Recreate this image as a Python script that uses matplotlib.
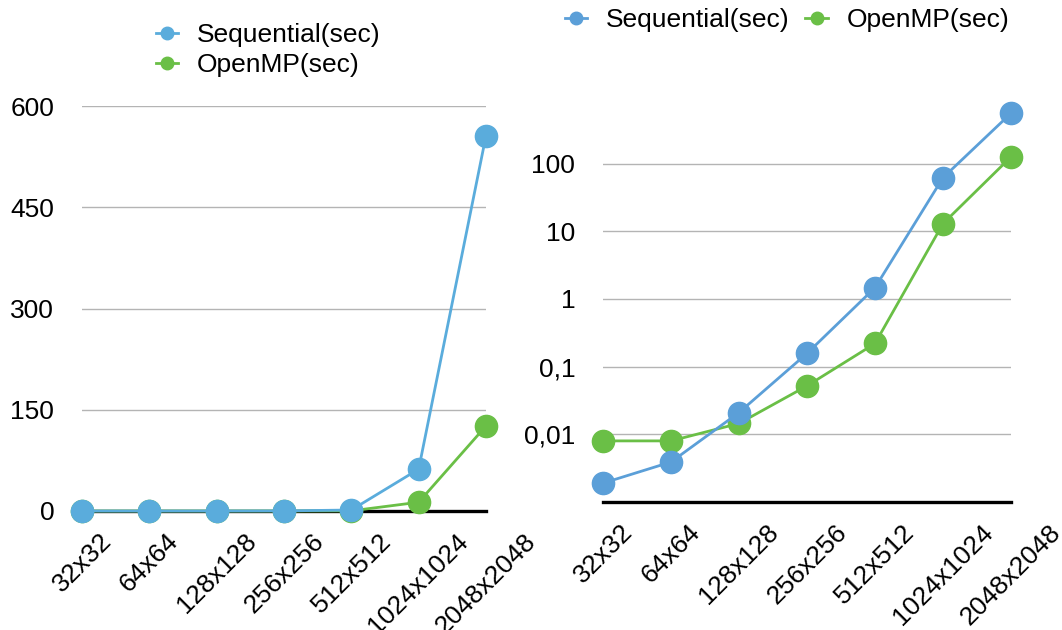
import matplotlib
matplotlib.use('Agg')
from matplotlib import pyplot as plt
from matplotlib.lines import Line2D

sizes = ["32x32", "64x64", "128x128", "256x256", "512x512", "1024x1024", "2048x2048"]
sequential = [0.0019, 0.0039, 0.021, 0.157, 1.47, 62, 556]
openmp = [0.008, 0.008, 0.0145, 0.052, 0.22, 13, 126]

linear_ticks = [0, 150, 300, 450, 600]
log_ticks = [0.01, 0.1, 1, 10, 100]
log_labels = ["0,01", "0,1", "1", "10", "100"]

blue_left = "#5aacdc"
blue_right = "#5b9fd8"
green = "#6abf46"

plt.rcParams['font.family'] = ['Liberation Sans', 'DejaVu Sans']
plt.rcParams['font.size'] = 19

fig = plt.figure(figsize=(10.62, 6.30), dpi=100)
W, H = 1062, 630


def px_axes(x0, x1, ytop, ybot):
    return fig.add_axes([x0 / W, 1 - ybot / H, (x1 - x0) / W, (ybot - ytop) / H])


def style(ax):
    for side in ("top", "right", "left"):
        ax.spines[side].set_visible(False)
    ax.spines["bottom"].set_linewidth(2.4)
    ax.spines["bottom"].set_color("black")
    ax.spines["bottom"].set_zorder(1)
    ax.set_xlim(0, len(sizes) - 1)
    ax.set_xticks(range(len(sizes)))
    ax.set_xticklabels(sizes, rotation=45, ha="center", va="top")
    ax.tick_params(axis="x", length=0, pad=13)
    ax.tick_params(axis="y", length=0, pad=20)
    ax.yaxis.grid(True, color="#b4b4b4", linewidth=1)
    ax.set_axisbelow(True)


def handles(blue):
    return [Line2D([], [], color=blue, lw=2, marker="o", ms=9),
            Line2D([], [], color=green, lw=2, marker="o", ms=9)]


x = list(range(len(sizes)))

# linear scale
ax1 = px_axes(82, 486, 106, 511)
style(ax1)
ax1.set_ylim(0, 600)
ax1.set_yticks(linear_ticks)
ax1.plot(x, openmp, "-o", color=green, lw=2, ms=16, clip_on=False, zorder=3)
ax1.plot(x, sequential, "-o", color=blue_left, lw=2, ms=16, clip_on=False, zorder=4)
ax1.legend(handles(blue_left), ["Sequential(sec)", "OpenMP(sec)"], loc="center",
           bbox_to_anchor=(0.46, 1.138), frameon=False, handlelength=0.85,
           handletextpad=0.7, labelspacing=0.25, fontsize=19)

# log scale
ax2 = px_axes(603, 1011, 96, 502)
style(ax2)
ax2.set_yscale("log")
ax2.set_ylim(0.001, 1000)
ax2.set_yticks(log_ticks)
ax2.set_yticklabels(log_labels)
ax2.minorticks_off()
ax2.plot(x, openmp, "-o", color=green, lw=2, ms=16, clip_on=False, zorder=3)
ax2.plot(x, sequential, "-o", color=blue_right, lw=2, ms=16, clip_on=False, zorder=4)
ax2.legend(handles(blue_right), ["Sequential(sec)", "OpenMP(sec)"], loc="center",
           bbox_to_anchor=(0.451, 1.187), ncol=2, frameon=False, handlelength=0.85,
           handletextpad=0.7, columnspacing=0.6, fontsize=19)

fig.savefig("out.png", dpi=100)
